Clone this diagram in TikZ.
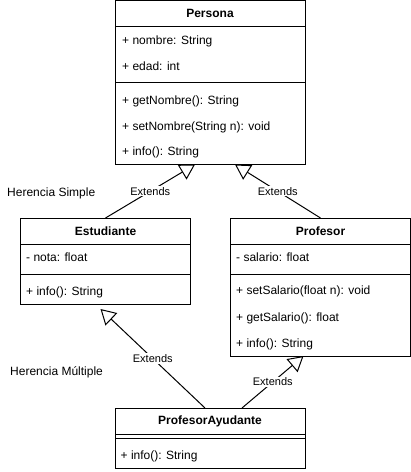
\documentclass[tikz,border=0pt]{standalone}
\usepackage{fontspec}
\setmainfont{Liberation Sans}
\usetikzlibrary{positioning,arrows.meta}

\begin{document}
\begin{tikzpicture}[
  x=1pt, y=-1pt,
  font=\fontsize{12}{14}\selectfont,
  clshead/.style={
    draw, fill=white, line width=1pt, inner sep=0pt, outer sep=0pt,
    minimum height=26pt, font=\fontsize{12}{14}\selectfont\bfseries,
  },
  clspart/.style={draw, fill=white, line width=1pt, inner sep=0pt, outer sep=0pt},
  member/.style={anchor=base west, inner sep=0pt},
  inherit/.style={-{Triangle[open, length=15pt, width=17pt]}, line width=1pt},
  extlabel/.style={fill=white, inner sep=1pt, font=\fontsize{11}{13}\selectfont},
  notelabel/.style={anchor=base west, inner sep=0pt},
]
\useasboundingbox (0,0) rectangle (411,472);

% ============================================================
% Persona
% ============================================================
\node[clshead, minimum width=190pt] (persona) at (210,13.5) {Persona};
\node[clspart, minimum width=190pt, minimum height=56pt, below=0pt of persona] (perattr) {};
\node[clspart, minimum width=190pt, minimum height=82pt, below=0pt of perattr] (perops) {};
\node[member] (pnombre) at (122,44) {+ nombre: String};
\node[member] (pedad) at (122,70) {+ edad: int};
\node[member] (pgetnom) at (122,104) {+ getNombre(): String};
\node[member] (psetnom) at (122,130) {+ setNombre(String n): void};
\node[member] (pinfo) at (122,155) {+ info(): String};

% ============================================================
% Estudiante
% ============================================================
\node[clshead, minimum width=170pt] (estud) at (105.5,231) {Estudiante};
\node[clspart, minimum width=170pt, minimum height=30pt, below=0pt of estud] (estattr) {};
\node[clspart, minimum width=170pt, minimum height=30pt, below=0pt of estattr] (estops) {};
\node[member] (enota) at (26,261) {- nota: float};
\node[member] (einfo) at (26,295) {+ info(): String};

% ============================================================
% Profesor
% ============================================================
\node[clshead, minimum width=180pt] (prof) at (320.5,231) {Profesor};
\node[clspart, minimum width=180pt, minimum height=30pt, below=0pt of prof] (profattr) {};
\node[clspart, minimum width=180pt, minimum height=82pt, below=0pt of profattr] (profops) {};
\node[member] (fsalario) at (236,261) {- salario: float};
\node[member] (fsetsal) at (236,294.5) {+ setSalario(float n): void};
\node[member] (fgetsal) at (236,321) {+ getSalario(): float};
\node[member] (finfo) at (236,347) {+ info(): String};

% ============================================================
% ProfesorAyudante
% ============================================================
\node[clshead, minimum width=190pt] (profay) at (210,421) {ProfesorAyudante};
\node[clspart, minimum width=190pt, minimum height=4pt, below=0pt of profay] (payattr) {};
\node[clspart, minimum width=190pt, minimum height=30pt, below=0pt of payattr] (payops) {};
\node[member] (ainfo) at (120.5,459) {+ info(): String};

% ============================================================
% inheritance edges
% ============================================================
\coordinate (tipestper) at ([xshift=-15pt]perops.south);
\coordinate (tipprofper) at ([xshift=25pt]perops.south);
\coordinate (tipayest) at ([xshift=-5pt,yshift=-5pt]estops.south);
\coordinate (tipayprof) at ([xshift=-17pt]profops.south);
\coordinate (fromayl) at ([xshift=-5pt]profay.north);
\coordinate (fromayr) at ([xshift=32pt]profay.north);

\draw[inherit] (estud.north) -- node[extlabel] {Extends} (tipestper);
\draw[inherit] (prof.north) -- node[extlabel] {Extends} (tipprofper);
\draw[inherit] (fromayl) -- node[extlabel] {Extends} (tipayest);
\draw[inherit] (fromayr) -- node[extlabel] {Extends} (tipayprof);

% notes
\node[notelabel] (hsimple) at (7,196) {Herencia Simple};
\node[notelabel] (hmultiple) at (10,375) {Herencia Múltiple};

\end{tikzpicture}
\end{document}
